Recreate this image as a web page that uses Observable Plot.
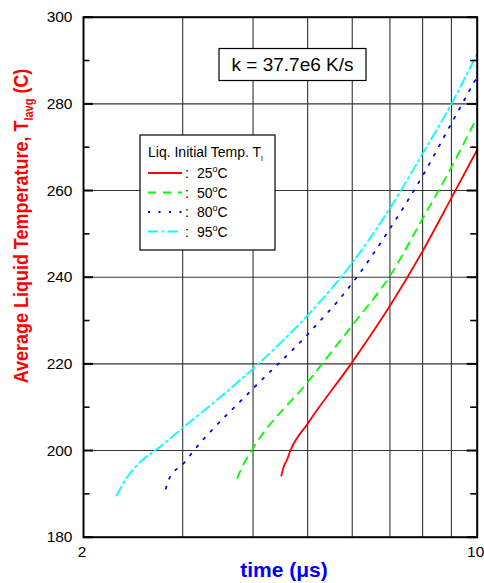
<!DOCTYPE html>
<html>
<head>
<meta charset="utf-8">
<script src="https://cdn.jsdelivr.net/npm/d3@7"></script>
<script src="https://cdn.jsdelivr.net/npm/@observablehq/plot@0.6"></script>
<style>
  body { margin: 0; background: #fff; }
  #chart svg { font-family: "Liberation Sans", Arial, sans-serif; display: block; }
</style>
</head>
<body>
<div id="chart"></div>
<script>
// ---- data ----
const seriesLabels = ["25", "50", "80", "95"];
const seriesColors = ["#ff0000", "#00ff00", "#0000ff", "#00ffff"];
const seriesDashes = [null, "8,7", "2,8.5", "10,4,2,4"];

const time25 = [4.49, 4.54, 4.59, 4.66, 5, 6, 7, 8, 9, 10];
const temp25 = [194.2, 196.5, 197.7, 200, 206.2, 220.4, 233.4, 246.0, 258.3, 269.4];

const time50 = [3.75, 3.80, 4, 5, 6, 7, 8, 9, 10];
const temp50 = [193.6, 195.4, 200.5, 215.8, 228.9, 240.3, 253.5, 265.4, 277];

const time80 = [2.80, 2.83, 2.89, 3, 3.14, 4, 5, 6, 7, 8, 9, 10];
const temp80 = [191.2, 193.1, 195.0, 196.8, 200, 214.3, 226.8, 238.6, 251.2, 263.4, 275.5, 286.3];

const time95 = [2.29, 2.36, 2.56, 2.68, 3, 4, 5, 6, 7, 8, 9, 10];
const temp95 = [189.6, 192.7, 198.1, 200, 205.2, 218.9, 231.2, 243.3, 255.9, 268.5, 280, 291.6];

const xGridTicks = [3, 4, 5, 6, 7, 8, 9];
const xLabelTicks = [2, 10];
const yGridTicks = [200, 220, 240, 260, 280];
const yLabelTicks = [180, 200, 220, 240, 260, 280, 300];
const yMinorTicks = [190, 210, 230, 250, 270, 290];

const annotationText = "k = 37.7e6 K/s";
const legendTitle = "Liq. Initial Temp. T";
const legendTitleSub = "l";
const xTitle = "time (μs)";
const yTitleMain = "Average Liquid Temperature, T";
const yTitleSub = "lavg";
const yTitleEnd = " (C)";

// ---- build table ----
const timeSets = [time25, time50, time80, time95];
const tempSets = [temp25, temp50, temp80, temp95];
const rows = [];
timeSets.forEach((ts, i) => ts.forEach((t, j) => rows.push({series: seriesLabels[i], t, T: tempSets[i][j]})));

const W = 484, H = 583;
const mL = 83, mR = 7.3, mT = 16.7, mB = 46.3;
const innerW = W - mL - mR;

const plot = Plot.plot({
  width: W,
  height: H,
  marginLeft: mL,
  marginRight: mR,
  marginTop: mT,
  marginBottom: mB,
  style: {fontFamily: '"Liberation Sans", Arial, sans-serif', fontSize: "15.5px", color: "black", background: "white"},
  x: {type: "log", domain: [2, 10]},
  y: {domain: [180, 300]},
  marks: [
    Plot.gridX(xGridTicks, {stroke: "#333", strokeOpacity: 1, strokeWidth: 1.1}),
    Plot.gridY(yGridTicks, {stroke: "#333", strokeOpacity: 1, strokeWidth: 1.1}),
    ...seriesLabels.map((s, i) => Plot.line(rows.filter(r => r.series === s), {
      x: "t", y: "T", stroke: seriesColors[i], strokeWidth: 1.8,
      strokeDasharray: seriesDashes[i], curve: "monotone-x"
    })),
    // inward ticks on left and right edges
    Plot.ruleY(yLabelTicks, {y: d => d, stroke: "black", strokeWidth: 2, insetRight: innerW - 10}),
    Plot.ruleY(yLabelTicks, {y: d => d, stroke: "black", strokeWidth: 2, insetLeft: innerW - 10}),
    Plot.ruleY(yMinorTicks, {y: d => d, stroke: "black", strokeWidth: 1.6, insetRight: innerW - 6.5}),
    Plot.ruleY(yMinorTicks, {y: d => d, stroke: "black", strokeWidth: 1.6, insetLeft: innerW - 6.5}),
    Plot.frame({stroke: "black", strokeWidth: 2}),
    Plot.axisX({ticks: xLabelTicks, tickSize: 0, tickPadding: 9, dx: -1.5, tickFormat: d => String(d), label: null, fill: "black"}),
    Plot.axisY({ticks: yLabelTicks, tickSize: 0, tickPadding: 11, tickFormat: d => String(d), label: null, fill: "black"})
  ]
});

document.getElementById("chart").appendChild(plot);

const svg = d3.select(plot);
const ff = '"Liberation Sans", Arial, sans-serif';

// annotation box
const ann = svg.append("g");
ann.append("rect").attr("x", 219).attr("y", 48.5).attr("width", 147).attr("height", 32)
  .attr("fill", "white").attr("stroke", "black").attr("stroke-width", 1.2);
ann.append("text").attr("x", 292.5).attr("y", 71).attr("text-anchor", "middle")
  .attr("font-family", ff).attr("font-size", 19).attr("fill", "black").text(annotationText);

// legend
const lg = svg.append("g").attr("text-anchor", "start");
lg.append("rect").attr("x", 140).attr("y", 135).attr("width", 135).attr("height", 115)
  .attr("fill", "white").attr("stroke", "black").attr("stroke-width", 1.2);
const tt = lg.append("text").attr("x", 148).attr("y", 157).attr("font-family", ff)
  .attr("text-anchor", "start").attr("font-size", 14).attr("fill", "black");
tt.append("tspan").text(legendTitle);
tt.append("tspan").attr("font-size", 8).attr("dy", 4).text(legendTitleSub);

seriesLabels.forEach((s, i) => {
  const yy = 173 + i * 19.5;
  lg.append("line").attr("x1", 148).attr("x2", 182).attr("y1", yy).attr("y2", yy)
    .attr("stroke", seriesColors[i]).attr("stroke-width", 1.8)
    .attr("stroke-dasharray", seriesDashes[i]);
  lg.append("text").attr("x", 185).attr("y", yy + 5).attr("font-family", ff)
    .attr("text-anchor", "start").attr("font-size", 14).attr("fill", "black").text(":");
  const t = lg.append("text").attr("x", 197).attr("y", yy + 5).attr("font-family", ff)
    .attr("text-anchor", "start").attr("font-size", 14).attr("fill", "black");
  t.append("tspan").text(s);
  t.append("tspan").attr("font-size", 9).attr("dy", -6).text("o");
  t.append("tspan").attr("dy", 6).text("C");
});

// x title
svg.append("text").attr("x", 284).attr("y", 577).attr("text-anchor", "middle")
  .attr("font-family", ff).attr("font-weight", "bold").attr("font-size", 21)
  .attr("fill", "#0000ff").text(xTitle);

// y title
const yg = svg.append("g").attr("transform", "translate(28,226) rotate(-90) scale(1,1.15)");
const yt = yg.append("text").attr("x", 0).attr("y", 0).attr("text-anchor", "middle")
  .attr("font-family", ff).attr("font-weight", "bold").attr("font-size", 18).attr("fill", "#ff0000");
yt.append("tspan").text(yTitleMain);
yt.append("tspan").attr("font-size", 11).attr("dy", 4).text(yTitleSub);
yt.append("tspan").attr("dy", -4).text(yTitleEnd);
</script>
</body>
</html>
